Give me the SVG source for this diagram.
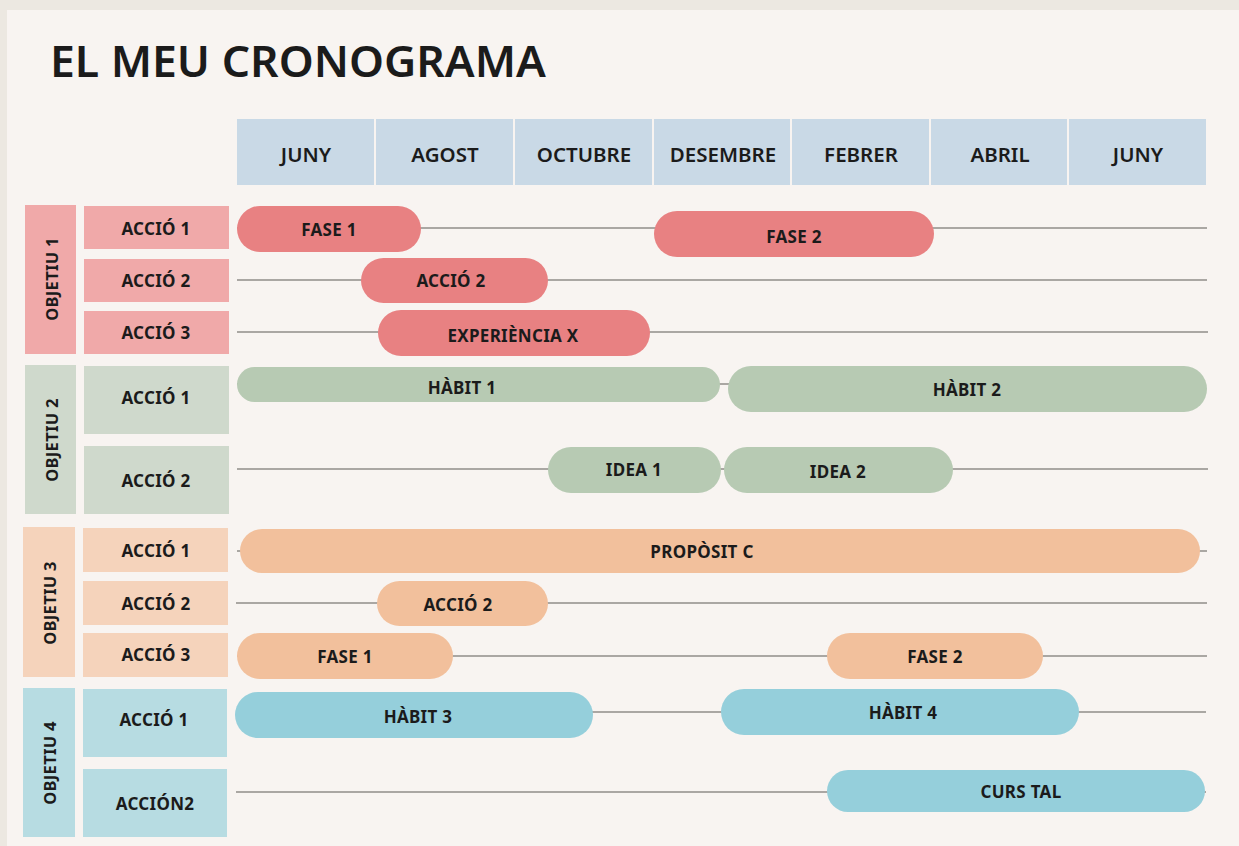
<svg xmlns="http://www.w3.org/2000/svg" width="1239" height="846" viewBox="0 0 1239 846">
<style>
text{font-family:"Noto Sans","Open Sans","Liberation Sans",sans-serif;fill:#1b1b1b;dominant-baseline:central;text-anchor:middle}
.title{font-size:44px;font-weight:600;text-anchor:start;dominant-baseline:alphabetic}
.hd{fill:#c9d9e6}
.ht{font-size:20.5px;font-weight:600}
.lt{font-size:17px;font-weight:700;letter-spacing:0.3px}
.ot{font-size:16.5px;font-weight:700;letter-spacing:0.3px}
.bt{font-size:17px;font-weight:700;letter-spacing:0.3px}
.ln{stroke:#aaa7a3;stroke-width:2;fill:none}
.o1{fill:#f0a9a9}.b1{fill:#e88182}
.o2{fill:#cfd9cc}.b2{fill:#b7cab3}
.o3{fill:#f5d3bb}.b3{fill:#f2c09c}
.o4{fill:#b7dce2}.b4{fill:#95cfdb}
</style>
<rect x="0" y="0" width="1239" height="846" fill="#ece8e1"/>
<rect x="7" y="10" width="1232" height="836" fill="#f8f4f1"/>
<text class="title" x="50" y="77" textLength="496" lengthAdjust="spacingAndGlyphs">EL MEU CRONOGRAMA</text>

<g id="header">
<rect class="hd" x="237" y="119" width="137" height="66"/><text class="ht" x="306" y="154">JUNY</text>
<rect class="hd" x="376" y="119" width="137" height="66"/><text class="ht" x="445" y="154">AGOST</text>
<rect class="hd" x="515" y="119" width="137" height="66"/><text class="ht" x="584" y="154">OCTUBRE</text>
<rect class="hd" x="654" y="119" width="136" height="66"/><text class="ht" x="723" y="154">DESEMBRE</text>
<rect class="hd" x="792" y="119" width="137" height="66"/><text class="ht" x="861" y="154">FEBRER</text>
<rect class="hd" x="931" y="119" width="136" height="66"/><text class="ht" x="1000" y="154">ABRIL</text>
<rect class="hd" x="1069" y="119" width="137" height="66"/><text class="ht" x="1138" y="154">JUNY</text>
</g>

<g id="connectors">
<line class="ln" x1="237" y1="228" x2="1207" y2="228"/>
<line class="ln" x1="237" y1="280" x2="1207" y2="280"/>
<line class="ln" x1="237" y1="332" x2="1208" y2="332"/>
<line class="ln" x1="237" y1="384" x2="730" y2="384"/>
<line class="ln" x1="237" y1="469" x2="1208" y2="469"/>
<line class="ln" x1="237" y1="551" x2="1207" y2="551"/>
<line class="ln" x1="236" y1="603" x2="1207" y2="603"/>
<line class="ln" x1="237" y1="656" x2="1207" y2="656"/>
<line class="ln" x1="236" y1="712" x2="1206" y2="712"/>
<line class="ln" x1="236" y1="792" x2="1206" y2="792"/>
</g>

<g id="objetiu1">
<rect class="o1" x="25" y="205" width="51" height="149"/>
<text class="ot" transform="translate(51 279) rotate(-90)">OBJETIU 1</text>
</g>
<g id="o1-accio1"><rect class="o1" x="84" y="206" width="145" height="43"/><text class="lt" x="156" y="228">ACCIÓ 1</text></g>
<g id="o1-accio2"><rect class="o1" x="84" y="259" width="145" height="43"/><text class="lt" x="156" y="280">ACCIÓ 2</text></g>
<g id="o1-accio3"><rect class="o1" x="84" y="311" width="145" height="43"/><text class="lt" x="156" y="332">ACCIÓ 3</text></g>

<g id="objetiu2">
<rect class="o2" x="25" y="365" width="51" height="149"/>
<text class="ot" transform="translate(51 440) rotate(-90)">OBJETIU 2</text>
</g>
<g id="o2-accio1"><rect class="o2" x="84" y="366" width="145" height="68"/><text class="lt" x="156" y="397">ACCIÓ 1</text></g>
<g id="o2-accio2"><rect class="o2" x="84" y="446" width="145" height="68"/><text class="lt" x="156" y="480">ACCIÓ 2</text></g>

<g id="objetiu3">
<rect class="o3" x="23" y="527" width="52" height="150"/>
<text class="ot" transform="translate(49 603) rotate(-90)">OBJETIU 3</text>
</g>
<g id="o3-accio1"><rect class="o3" x="83" y="528" width="145" height="44"/><text class="lt" x="156" y="550">ACCIÓ 1</text></g>
<g id="o3-accio2"><rect class="o3" x="83" y="581" width="145" height="44"/><text class="lt" x="156" y="603">ACCIÓ 2</text></g>
<g id="o3-accio3"><rect class="o3" x="83" y="633" width="145" height="44"/><text class="lt" x="156" y="654">ACCIÓ 3</text></g>

<g id="objetiu4">
<rect class="o4" x="23" y="688" width="52" height="149"/>
<text class="ot" transform="translate(49 763) rotate(-90)">OBJETIU 4</text>
</g>
<g id="o4-accio1"><rect class="o4" x="83" y="689" width="144" height="68"/><text class="lt" x="154" y="719">ACCIÓ 1</text></g>
<g id="o4-accio2"><rect class="o4" x="83" y="769" width="144" height="68"/><text class="lt" x="155" y="803">ACCIÓN2</text></g>

<g id="bar-fase1-o1"><rect class="b1" x="237" y="206" width="184" height="46" rx="23"/><text class="bt" x="329" y="229">FASE 1</text></g>
<g id="bar-fase2-o1"><rect class="b1" x="654" y="211" width="280" height="46" rx="23"/><text class="bt" x="794" y="236">FASE 2</text></g>
<g id="bar-accio2-o1"><rect class="b1" x="361" y="258" width="187" height="45" rx="22.5"/><text class="bt" x="451" y="280">ACCIÓ 2</text></g>
<g id="bar-experiencia"><rect class="b1" x="378" y="310" width="272" height="46" rx="23"/><text class="bt" x="513" y="335">EXPERIÈNCIA X</text></g>

<g id="bar-habit1"><rect class="b2" x="237" y="367" width="483" height="35" rx="17.5"/><text class="bt" x="462" y="387">HÀBIT 1</text></g>
<g id="bar-habit2"><rect class="b2" x="728" y="366" width="479" height="46" rx="23"/><text class="bt" x="967" y="389">HÀBIT 2</text></g>
<g id="bar-idea1"><rect class="b2" x="548" y="447" width="173" height="46" rx="23"/><text class="bt" x="634" y="469">IDEA 1</text></g>
<g id="bar-idea2"><rect class="b2" x="724" y="447" width="229" height="46" rx="23"/><text class="bt" x="838" y="471">IDEA 2</text></g>

<g id="bar-proposit"><rect class="b3" x="240" y="529" width="960" height="44" rx="22"/><text class="bt" x="702" y="551">PROPÒSIT C</text></g>
<g id="bar-accio2-o3"><rect class="b3" x="377" y="581" width="171" height="45" rx="22.5"/><text class="bt" x="458" y="604">ACCIÓ 2</text></g>
<g id="bar-fase1-o3"><rect class="b3" x="237" y="633" width="216" height="46" rx="23"/><text class="bt" x="345" y="656">FASE 1</text></g>
<g id="bar-fase2-o3"><rect class="b3" x="827" y="633" width="216" height="46" rx="23"/><text class="bt" x="935" y="656">FASE 2</text></g>

<g id="bar-habit3"><rect class="b4" x="235" y="692" width="358" height="46" rx="23"/><text class="bt" x="418" y="716">HÀBIT 3</text></g>
<g id="bar-habit4"><rect class="b4" x="721" y="689" width="358" height="46" rx="23"/><text class="bt" x="903" y="712">HÀBIT 4</text></g>
<g id="bar-curs"><rect class="b4" x="827" y="770" width="378" height="42" rx="21"/><text class="bt" x="1021" y="791">CURS TAL</text></g>
</svg>
